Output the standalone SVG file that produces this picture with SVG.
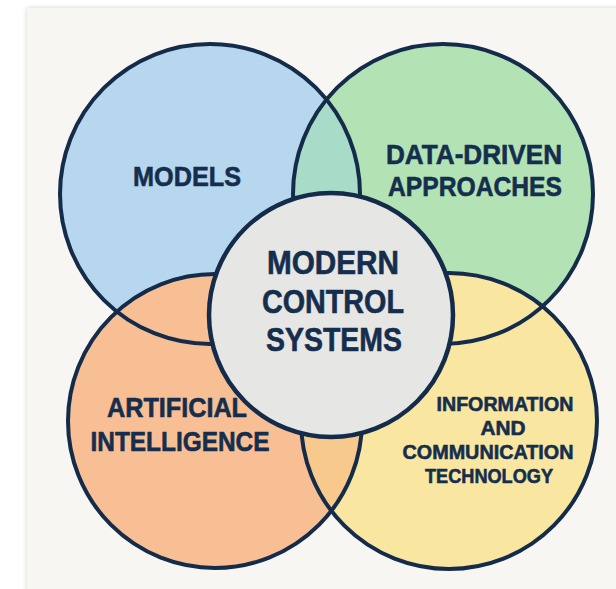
<svg xmlns="http://www.w3.org/2000/svg" width="616" height="589" viewBox="0 0 616 589">
<style>
.ring{fill:none;stroke:#142c4a;stroke-width:4}
.lbl{font-family:"Liberation Sans","Open Sans",Arial,sans-serif;font-weight:700;fill:#152e4d;stroke:#152e4d;stroke-width:0.6;text-anchor:middle}
</style>
<defs>
<filter id="sh" x="-5%" y="-5%" width="110%" height="110%">
<feDropShadow dx="0" dy="0" stdDeviation="2.5" flood-color="#000" flood-opacity="0.18"/>
</filter>
<clipPath id="cBlue"><circle cx="210" cy="194" r="150"/></clipPath>
<clipPath id="cOrange"><circle cx="215" cy="421" r="147"/></clipPath>
</defs>
<rect x="0" y="0" width="616" height="589" fill="#ffffff"/>
<rect x="27" y="8" width="600" height="600" fill="#f8f6f2" filter="url(#sh)"/>
<g id="fills">
<circle cx="210" cy="194" r="150" fill="#b7d7ee"/>
<circle cx="443" cy="194" r="150" fill="#b3e3b5"/>
<circle cx="443" cy="194" r="150" fill="#a9dcc8" clip-path="url(#cBlue)"/>
<circle cx="215" cy="421" r="147" fill="#f9bf94"/>
<circle cx="449" cy="421" r="148" fill="#f8e6a1"/>
<circle cx="449" cy="421" r="148" fill="#f8c98c" clip-path="url(#cOrange)"/>
</g>
<g id="models"><circle class="ring" cx="210" cy="194" r="150"/><text class="lbl" x="187" y="186" font-size="28" textLength="108" lengthAdjust="spacingAndGlyphs">MODELS</text></g>
<g id="data-driven"><circle class="ring" cx="443" cy="194" r="150"/><text class="lbl" x="474" y="164" font-size="28" textLength="176" lengthAdjust="spacingAndGlyphs">DATA-DRIVEN</text><text class="lbl" x="475" y="196" font-size="28" textLength="174" lengthAdjust="spacingAndGlyphs">APPROACHES</text></g>
<g id="ai"><circle class="ring" cx="215" cy="421" r="147"/><text class="lbl" x="177" y="417" font-size="28" textLength="140" lengthAdjust="spacingAndGlyphs">ARTIFICIAL</text><text class="lbl" x="180" y="451" font-size="28" textLength="179" lengthAdjust="spacingAndGlyphs">INTELLIGENCE</text></g>
<g id="ict"><circle class="ring" cx="449" cy="421" r="148"/><text class="lbl" x="505" y="411" font-size="21" textLength="137" lengthAdjust="spacingAndGlyphs">INFORMATION</text><text class="lbl" x="503" y="435" font-size="21" textLength="45" lengthAdjust="spacingAndGlyphs">AND</text><text class="lbl" x="488" y="459" font-size="21" textLength="171" lengthAdjust="spacingAndGlyphs">COMMUNICATION</text><text class="lbl" x="489" y="483" font-size="21" textLength="128" lengthAdjust="spacingAndGlyphs">TECHNOLOGY</text></g>
<g id="modern-control-systems"><circle cx="331" cy="315" r="122" fill="#e6e6e4" stroke="#142c4a" stroke-width="4.5"/><text class="lbl" x="333" y="274" font-size="33" textLength="132" lengthAdjust="spacingAndGlyphs">MODERN</text><text class="lbl" x="333" y="313" font-size="33" textLength="142" lengthAdjust="spacingAndGlyphs">CONTROL</text><text class="lbl" x="334" y="351" font-size="33" textLength="136" lengthAdjust="spacingAndGlyphs">SYSTEMS</text></g>
</svg>
